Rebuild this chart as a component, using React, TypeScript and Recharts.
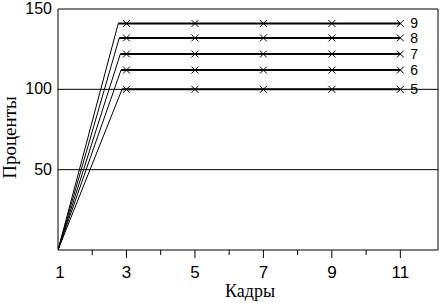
import { LineChart, Line, XAxis, YAxis, ReferenceLine } from 'recharts';

// frames (Кадры) and the level each curve reaches
const seriesNames = ['5', '6', '7', '8', '9'];
const levels = [100, 112, 122, 132, 141];
const cornerX = [2.87, 2.84, 2.82, 2.79, 2.76];
const startX = 1;
const startY = 0;
const markX = [3, 5, 7, 9, 11];
const xTicks = [1, 2, 3, 4, 5, 6, 7, 8, 9, 10, 11];
const yTicks = [50, 100, 150];
const gridY = [50, 100];
const xMax = 12.1;
const yMax = 150;

const SANS = '"Liberation Sans", Arial, sans-serif';
const SERIF = '"Liberation Serif", "Times New Roman", serif';

const riseData = seriesNames.map((_, i) => [
  { x: startX, y: startY },
  { x: cornerX[i], y: levels[i] },
]);
const flatData = seriesNames.map((_, i) => [
  { x: cornerX[i], y: levels[i] },
  ...markX.map((x) => ({ x, y: levels[i] })),
]);

const makeDot = (name: string) => (props: any) => {
  const { cx, cy, payload, index } = props;
  if (!markX.includes(payload.x)) return <g key={`d-${name}-${index}`} />;
  const s = 3.5;
  const last = payload.x === markX[markX.length - 1];
  return (
    <g key={`d-${name}-${index}`}>
      <line x1={cx - s} y1={cy - s} x2={cx + s} y2={cy + s} stroke="#000" strokeWidth={1} />
      <line x1={cx - s} y1={cy + s} x2={cx + s} y2={cy - s} stroke="#000" strokeWidth={1} />
      {last && (
        <text x={cx + 10} y={cy + 5} fontSize={14} fontFamily={SANS} fill="#000">
          {name}
        </text>
      )}
    </g>
  );
};

// x,y handed to the tick are the label anchor, 8px below the axis line
const XTick = ({ x, y, payload }: any) => {
  const v = payload.value;
  const major = v % 2 === 1;
  const axisY = y - 8;
  return (
    <g>
      {v !== 1 && <line x1={x} y1={axisY} x2={x} y2={axisY + (major ? 8 : 5)} stroke="#000" />}
      {major && (
        <text x={x + (v === 1 ? 2 : 0)} y={axisY + 28} textAnchor="middle" fontSize={17} fontFamily={SANS} fill="#000">
          {v}
        </text>
      )}
    </g>
  );
};

const YTick = ({ x, y, payload }: any) => (
  <text x={x + 2} y={y + 5} textAnchor="end" fontSize={16} fontFamily={SANS} fill="#000">
    {payload.value}
  </text>
);

export default function App() {
  return (
    <div style={{ position: 'absolute', left: 0, top: 0, background: '#fff' }}>
      <LineChart width={441} height={303} margin={{ top: 9, right: 3, left: 0, bottom: 0 }}>
        <XAxis
          type="number"
          dataKey="x"
          domain={[startX, xMax]}
          ticks={xTicks}
          interval={0}
          allowDataOverflow
          height={53}
          axisLine={{ stroke: '#000' }}
          tickLine={false}
          tick={<XTick />}
          label={({ viewBox }: any) => (
            <text
              x={viewBox.x + viewBox.width / 2 + 2}
              y={viewBox.y + 47}
              textAnchor="middle"
              fontSize={18}
              fontFamily={SERIF}
              fill="#000"
            >
              Кадры
            </text>
          )}
        />
        <YAxis
          type="number"
          domain={[0, yMax]}
          ticks={yTicks}
          width={58}
          allowDataOverflow
          axisLine={{ stroke: '#000' }}
          tickLine={false}
          tick={<YTick />}
          label={({ viewBox }: any) => {
            const cx = viewBox.x + 16;
            const cy = viewBox.y + viewBox.height / 2 + 8;
            return (
              <text
                x={cx}
                y={cy}
                textAnchor="middle"
                fontSize={19}
                fontFamily={SERIF}
                fill="#000"
                transform={`rotate(-90, ${cx}, ${cy})`}
              >
                Проценты
              </text>
            );
          }}
        />
        {gridY.map((v) => (
          <ReferenceLine key={`g${v}`} y={v} stroke="#000" strokeWidth={1} />
        ))}
        <ReferenceLine y={yMax} stroke="#000" strokeWidth={1} />
        <ReferenceLine x={xMax} stroke="#000" strokeWidth={1} />
        {seriesNames.map((name, i) => (
          <Line
            key={`r${name}`}
            data={riseData[i]}
            dataKey="y"
            stroke="#000"
            strokeWidth={1}
            dot={false}
            isAnimationActive={false}
          />
        ))}
        {seriesNames.map((name, i) => (
          <Line
            key={`f${name}`}
            data={flatData[i]}
            dataKey="y"
            stroke="#000"
            strokeWidth={2}
            dot={makeDot(name)}
            isAnimationActive={false}
          />
        ))}
      </LineChart>
    </div>
  );
}
